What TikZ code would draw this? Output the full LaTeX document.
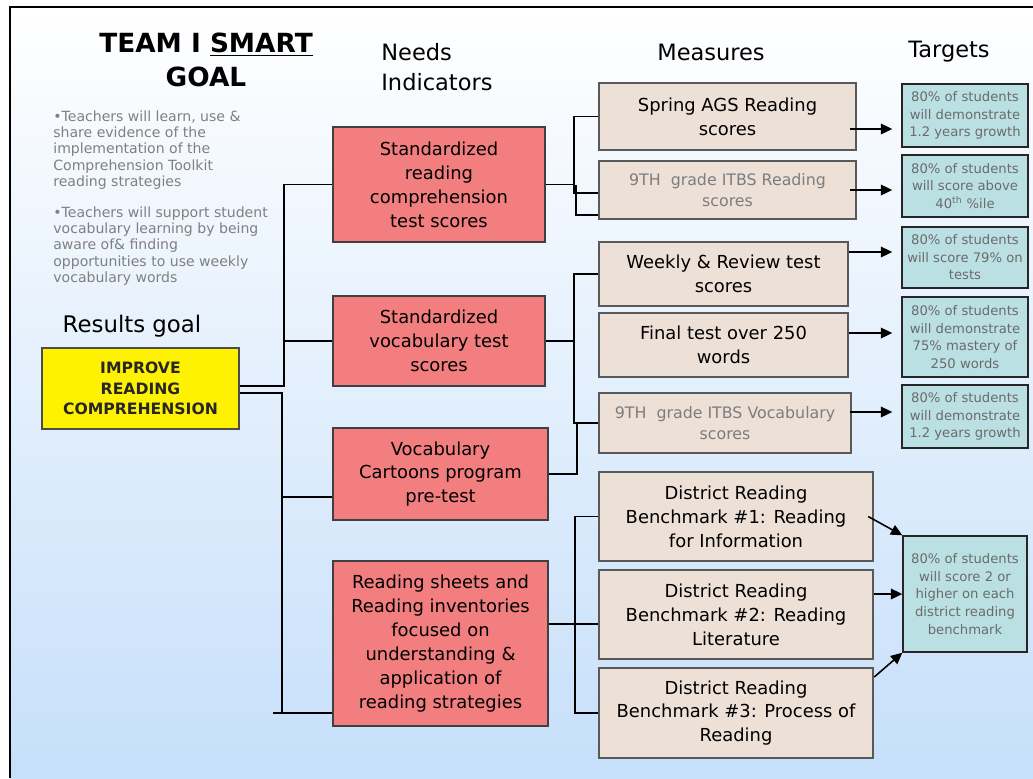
\documentclass[tikz,border=0pt]{standalone}
\usepackage{fontspec}
\setmainfont{DejaVu Sans}
\usepackage{xcolor}
\usetikzlibrary{arrows.meta,calc}
\definecolor{needred}{RGB}{242,126,128}
\definecolor{measbeige}{RGB}{236,224,215}
\definecolor{targteal}{RGB}{186,224,228}
\definecolor{bgblue}{RGB}{198,223,250}
\definecolor{softgray}{RGB}{125,125,125}

\begin{document}
\begin{tikzpicture}[x=0.02cm,y=-0.02cm,
    >={Triangle[length=6.5pt,width=6pt]},
    link/.style={line width=1pt},
    arr/.style={->,line width=0.9pt,shorten >=0.18cm},
    arrin/.style={->,line width=0.9pt},
    head/.style={inner sep=0pt,font=\fontsize{12.8}{17}\selectfont},
    needbox/.style={draw=black!75,line width=1.2pt,fill=needred,align=center,inner sep=0pt,
        font=\fontsize{10.2}{13.6}\selectfont,minimum width=4.24cm},
    measbox/.style={draw=black!65,line width=1.4pt,fill=measbeige,align=center,inner sep=0pt,
        font=\fontsize{10.2}{13.6}\selectfont},
    itbs/.style={text=softgray,font=\fontsize{9}{12.4}\selectfont},
    targbox/.style={draw=black!85,line width=0.8pt,fill=targteal,align=center,inner sep=0pt,
        text=black!58,font=\fontsize{7.5}{10}\selectfont,minimum width=2.52cm}]
    \useasboundingbox (0,0) rectangle (1033,778);
    \fill[white] (0,0) rectangle (1033,778);
    \shade[top color=white,bottom color=bgblue] (10,7) rectangle (1033,778);
    \draw[line width=1.4pt] (10,778) -- (10,7) -- (1033,7); % frame
    %%%%%%%%%%%%%%%%%%%%%%%%%%%%%%%%%%
    \node[font=\bfseries\fontsize{15}{19.3}\selectfont,align=center] (title) at (206,60) {TEAM I \underline{SMART}\\GOAL};
    \node[anchor=west,align=left,inner sep=0pt,text=black!50,font=\fontsize{8}{9.3}\selectfont] (aim1) at (53,150)
        {\textbullet Teachers will learn, use \&\\share evidence of the\\implementation of the\\Comprehension Toolkit\\reading strategies};
    \node[anchor=west,align=left,inner sep=0pt,text=black!50,font=\fontsize{8}{9.3}\selectfont] (aim2) at (53,246)
        {\textbullet Teachers will support student\\vocabulary learning by being\\aware of\& finding\\opportunities to use weekly\\vocabulary words};
    \node[font=\fontsize{13}{15}\selectfont] (resl) at (132,326) {Results goal};
    \node[draw=black!70,line width=1.2pt,fill=yellow,minimum width=3.94cm,minimum height=1.62cm,align=center,
        inner sep=0pt,text=black!85,font=\bfseries\fontsize{8.9}{11.7}\selectfont] (goal) at (140.5,388.5)
        {IMPROVE\\READING\\COMPREHENSION};
    %%%%%%%%%%%%%%%%%%%%%%%%%%%%%%%%%%
    \node[head,anchor=west,align=left] (needs) at (381,67) {Needs\\Indicators};
    \node[head] (meas) at (711,52) {Measures};
    \node[head] (targ) at (949,52) {Targets};
    %%%%%%%%%%%%%%%%%%%%%%%%%%%%%%%%%%
    \node[needbox,minimum height=2.3cm] (ni1) at (439,184.5) {Standardized\\reading\\comprehension\\test scores};
    \node[needbox,minimum height=1.8cm] (ni2) at (439,341) {Standardized\\vocabulary test\\scores};
    \node[needbox,minimum width=4.3cm,minimum height=1.84cm] (ni3) at (440.5,474) {Vocabulary\\Cartoons program\\pre-test};
    \node[needbox,minimum width=4.3cm,minimum height=3.3cm] (ni4) at (440.5,643.5)
        {Reading sheets and\\Reading inventories\\focused on\\understanding \&\\application of\\reading strategies};
    %%%%%%%%%%%%%%%%%%%%%%%%%%%%%%%%%%
    \node[measbox,minimum width=5.14cm,minimum height=1.34cm] (ms1) at (727.5,116.5) {Spring AGS Reading\\scores};
    \node[measbox,itbs,minimum width=5.14cm,minimum height=1.16cm] (ms2) at (727.5,190) {9TH\ \ grade ITBS Reading\\scores};
    \node[measbox,minimum width=4.98cm,minimum height=1.28cm] (ms3) at (723.5,274) {Weekly \& Review test\\scores};
    \node[measbox,minimum width=4.98cm,minimum height=1.28cm] (ms4) at (723.5,345) {Final test over 250\\words};
    \node[measbox,itbs,minimum width=5.04cm,minimum height=1.2cm] (ms5) at (725,423) {9TH\ \ grade ITBS Vocabulary\\scores};
    \node[measbox,minimum width=5.48cm,minimum height=1.78cm] (ms6) at (736,516.5) {District Reading\\Benchmark \#1: Reading\\for Information};
    \node[measbox,minimum width=5.48cm,minimum height=1.78cm] (ms7) at (736,614.5) {District Reading\\Benchmark \#2: Reading\\Literature};
    \node[measbox,minimum width=5.48cm,minimum height=1.8cm] (ms8) at (736,713) {District Reading\\Benchmark \#3: Process of\\Reading};
    %%%%%%%%%%%%%%%%%%%%%%%%%%%%%%%%%%
    \node[targbox,minimum height=1.26cm] (tg1) at (965,115.5) {80\% of students\\will demonstrate\\1.2 years growth};
    \node[targbox,minimum height=1.24cm] (tg2) at (965,186) {80\% of students\\will score above\\40\textsuperscript{th} \%ile};
    \node[targbox,minimum height=1.22cm] (tg3) at (965,257.5) {80\% of students\\will score 79\% on\\tests};
    \node[targbox,minimum height=1.6cm] (tg4) at (965,337) {80\% of students\\will demonstrate\\75\% mastery of\\250 words};
    \node[targbox,minimum height=1.26cm] (tg5) at (965,416.5) {80\% of students\\will demonstrate\\1.2 years growth};
    \node[targbox,minimum width=2.48cm,minimum height=2.32cm] (tg6) at (965,594)
        {80\% of students\\will score 2 or\\higher on each\\district reading\\benchmark};
    %%%%%%%%%%%%%%%%%%%%%%%%%%%%%%%%%%
    % goal -> needs indicators
    \draw[link] ([yshift=0.05cm]goal.east) -| ([xshift=-0.96cm]ni1.west) -- (ni1.west);
    \draw[link] (ni2.west) -- ([xshift=-0.96cm]ni2.west);
    \draw[link] ([yshift=-0.09cm]goal.east) -| ([xshift=-1cm,yshift=-1.39cm]ni4.west) -- ([yshift=-1.39cm]ni4.west);
    \draw[link] ([xshift=-1.18cm,yshift=-1.39cm]ni4.west) -- ([xshift=-1cm,yshift=-1.39cm]ni4.west);
    \draw[link] ([yshift=-0.46cm]ni3.west) -- ([xshift=-1cm,yshift=-0.46cm]ni3.west);
    % needs indicators -> measures
    \draw[link] (ms1.west) -| ([xshift=0.56cm]ni1.east) -- (ni1.east);
    \draw[link] ([yshift=-0.06cm]ms2.west) -| ([xshift=0.56cm]ni1.east);
    \draw[link] ([yshift=-0.5cm]ms2.west) -| ([xshift=0.6cm]ni1.east);
    \draw[link] (ms3.west) -| ([xshift=0.56cm]ni2.east) -- (ni2.east);
    \draw[link] (ms5.west) -| ([xshift=0.56cm]ni2.east);
    \draw[link] (ms5.west) -| ([xshift=0.56cm]ni3.east) -- (ni3.east);
    \draw[link] ([yshift=0.39cm]ni4.east) -- ([yshift=-0.19cm]ms7.west);
    \coordinate (bj) at ([xshift=-0.46cm]ms6.west);
    \draw[link] (ms6.west) -- (bj) |- (ms8.west);
    % measures -> targets
    \coordinate (a1) at ([xshift=-0.14cm,yshift=-0.25cm]ms1.east);
    \coordinate (a2) at ([xshift=-0.14cm]ms2.east);
    \coordinate (a3) at ([yshift=0.44cm]ms3.east);
    \coordinate (a4) at ([yshift=0.24cm]ms4.east);
    \coordinate (a5) at ([xshift=-0.04cm,yshift=0.22cm]ms5.east);
    \draw[arr] (a1) -- (a1 -| tg1.west);
    \draw[arr] (a2) -- (a2 -| tg2.west);
    \draw[arr] (a3) -- (a3 -| tg3.west);
    \draw[arr] (a4) -- (a4 -| tg4.west);
    \draw[arr] (a5) -- (a5 -| tg5.west);
    \draw[arrin] ([xshift=-0.12cm]ms6.east) -- (tg6.north west);
    \draw[arrin] (tg6.west -| ms7.east) -- (tg6.west);
    \draw[arrin] ([yshift=0.72cm]ms8.east) -- (tg6.south west);
\end{tikzpicture}
\end{document}
